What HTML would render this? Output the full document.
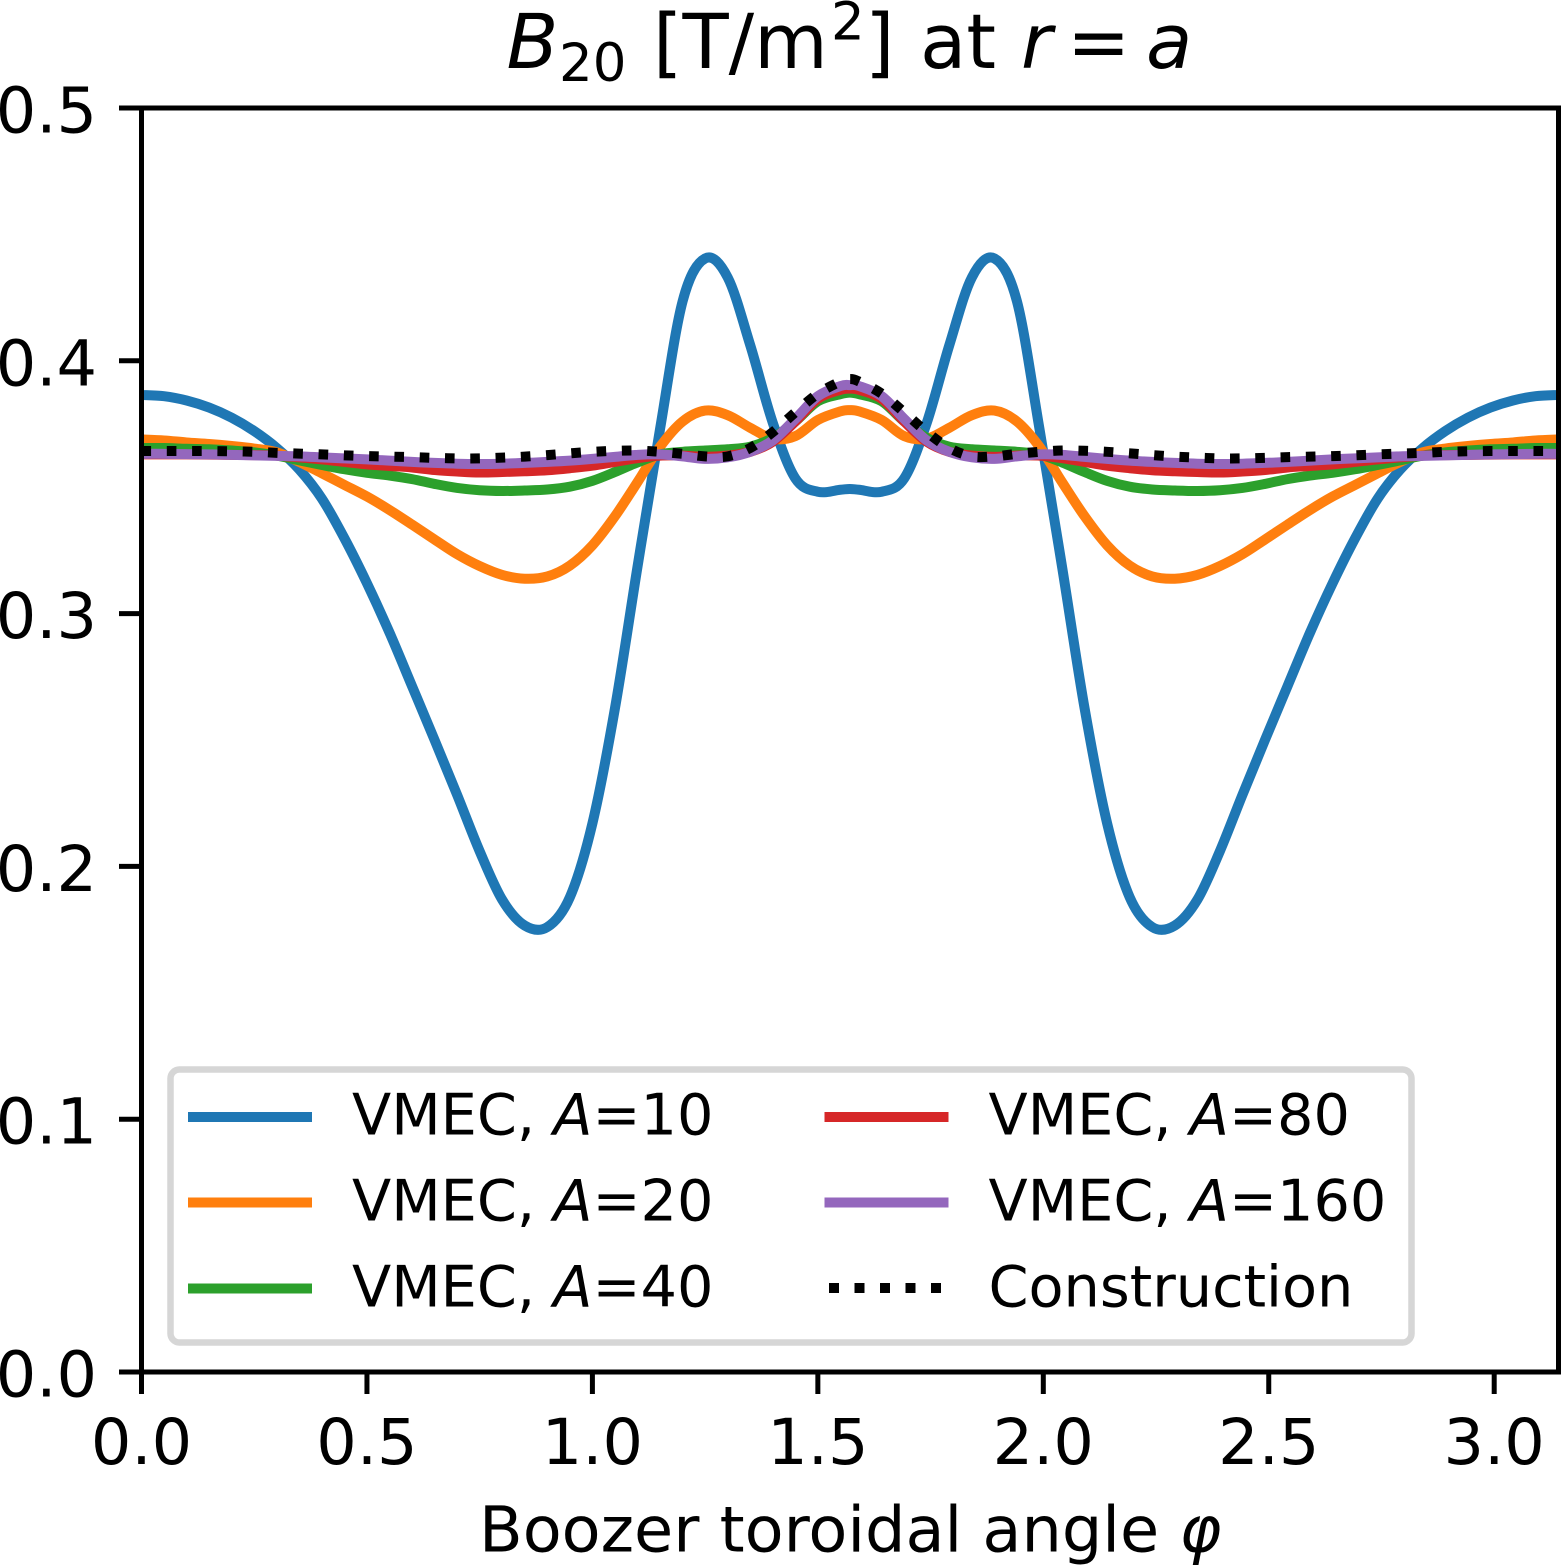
<!DOCTYPE html>
<html lang="en">
<head>
<meta charset="utf-8">
<title>B20 at r = a</title>
<style>
html,body{margin:0;padding:0;background:#fff;width:1561px;height:1565px;overflow:hidden}
svg{display:block}
text{font-family:"DejaVu Sans",sans-serif;fill:#000}
</style>
</head>
<body>
<svg id="chart" xmlns="http://www.w3.org/2000/svg" width="1561" height="1565" viewBox="0 0 1561 1565">
  <defs>
    <clipPath id="plot-clip"><rect x="141.5" y="108" width="1417" height="1264"/></clipPath>
  </defs>
  <rect x="0" y="0" width="1561" height="1565" fill="#fff"/>
  <g id="series" clip-path="url(#plot-clip)"></g>
  <g id="ticks"></g>
  <rect x="141.5" y="108" width="1417" height="1264" fill="none" stroke="#000" stroke-width="5"/>

  <text font-size="75.6" y="68"><tspan x="506.5" font-style="italic">B</tspan><tspan x="559" y="81" font-size="53">20</tspan><tspan x="653" y="68">[T/m</tspan><tspan x="831" y="39.5" font-size="53">2</tspan><tspan x="865" y="68">]</tspan><tspan x="920">at</tspan><tspan x="1021" font-style="italic">r</tspan><tspan x="1067">=</tspan><tspan x="1146" font-style="italic">a</tspan></text>
  <text font-size="63.7" x="479" y="1551.5">Boozer toroidal angle <tspan font-style="italic">φ</tspan></text>

  <g>
    <rect x="170.5" y="1069.5" width="1241" height="273" rx="9" ry="9" fill="#fff" fill-opacity="0.9" stroke="#d6d6d6" stroke-width="6.5"/>
    <g>
      <line x1="188" x2="312" y1="1117" y2="1117" stroke="#1f77b4" stroke-width="10"/>
      <text x="352" y="1134.5" font-size="57.3">VMEC, <tspan font-style="italic">A</tspan>=10</text>
    </g>
    <g>
      <line x1="188" x2="312" y1="1202.5" y2="1202.5" stroke="#ff7f0e" stroke-width="10"/>
      <text x="352" y="1220.5" font-size="57.3">VMEC, <tspan font-style="italic">A</tspan>=20</text>
    </g>
    <g>
      <line x1="188" x2="312" y1="1288.5" y2="1288.5" stroke="#2ca02c" stroke-width="10"/>
      <text x="352" y="1306.5" font-size="57.3">VMEC, <tspan font-style="italic">A</tspan>=40</text>
    </g>
    <g>
      <line x1="824.5" x2="948.5" y1="1117" y2="1117" stroke="#d62728" stroke-width="10"/>
      <text x="988.5" y="1134.5" font-size="57.3">VMEC, <tspan font-style="italic">A</tspan>=80</text>
    </g>
    <g>
      <line x1="824.5" x2="948.5" y1="1202.5" y2="1202.5" stroke="#9467bd" stroke-width="10"/>
      <text x="988.5" y="1220.5" font-size="57.3">VMEC, <tspan font-style="italic">A</tspan>=160</text>
    </g>
    <g>
      <line x1="829" x2="948.5" y1="1288" y2="1288" stroke="#000" stroke-width="10" stroke-dasharray="10 15.5"/>
      <text x="988.5" y="1306.5" font-size="57.3">Construction</text>
    </g>
  </g>
</svg>
<script>
var phi = [0,0.05,0.1,0.15,0.2,0.25,0.3,0.35,0.4,0.45,0.5,0.55,0.6,0.65,0.7,0.75,0.8,0.85,0.9,0.95,1,1.05,1.1,1.15,1.2,1.25,1.3,1.35,1.4,1.45,1.5,1.55,1.5708,
  1.5916,1.6416,1.6916,1.7416,1.7916,1.8416,1.8916,1.9416,1.9916,2.0416,2.0916,2.1416,2.1916,2.2416,2.2916,2.3416,2.3916,2.4416,2.4916,2.5416,2.5916,2.6416,2.6916,2.7416,2.7916,2.8416,2.8916,2.9416,2.9916,3.0416,3.0916,3.1416];

var a10 = [.3865,.3860,.3843,.3815,.3775,.3722,.3655,.3570,.3455,.3298,.3120,.2925,.2713,.2500,.2283,.2060,.1868,.1766,.1760,.1878,.2170,.2625,.3185,.3730,.4235,.4405,.4330,.4062,.3755,.3535,.3482,.3490,.3493,
  .3490,.3482,.3535,.3755,.4062,.4330,.4405,.4235,.3730,.3185,.2625,.2170,.1878,.1760,.1766,.1868,.2060,.2283,.2500,.2713,.2925,.3120,.3298,.3455,.3570,.3655,.3722,.3775,.3815,.3843,.3860,.3865];

var a20 = [.3689,.3685,.3677,.3671,.3663,.3653,.3638,.3600,.3555,.3509,.3463,.3410,.3352,.3293,.3235,.3188,.3153,.3138,.3147,.3190,.3270,.3385,.3520,.3660,.3760,.3803,.3785,.3735,.3692,.3702,.3766,.3800,.3805,
  .3800,.3766,.3702,.3692,.3735,.3785,.3803,.3760,.3660,.3520,.3385,.3270,.3190,.3147,.3138,.3153,.3188,.3235,.3293,.3352,.3410,.3463,.3509,.3555,.3600,.3638,.3653,.3663,.3671,.3677,.3685,.3689];

var a40 = [.3655,.3655,.3652,.3650,.3645,.3638,.3625,.3606,.3588,.3571,.3557,.3546,.3532,.3513,.3497,.3488,.3485,.3487,.3491,.3502,.3525,.3560,.3598,.3630,.3640,.3645,.3650,.3660,.3695,.3760,.3840,.3868,.3874,
  .3868,.3840,.3760,.3695,.3660,.3650,.3645,.3640,.3630,.3598,.3560,.3525,.3502,.3491,.3487,.3485,.3488,.3497,.3513,.3532,.3546,.3557,.3571,.3588,.3606,.3625,.3638,.3645,.3650,.3652,.3655,.3655];

var a80 = [.3630,.3630,.3630,.3629,.3628,.3627,.3625,.3618,.3610,.3600,.3590,.3584,.3578,.3568,.3562,.3558,.3560,.3563,.3567,.3575,.3585,.3600,.3615,.3625,.3625,.3620,.3625,.3640,.3680,.3760,.3850,.3885,.3890,
  .3885,.3850,.3760,.3680,.3640,.3625,.3620,.3625,.3625,.3615,.3600,.3585,.3575,.3567,.3563,.3560,.3558,.3562,.3568,.3578,.3584,.3590,.3600,.3610,.3618,.3625,.3627,.3628,.3629,.3630,.3630,.3630];

var a160 = [.3632,.3632,.3631,.3630,.3628,.3626,.3624,.3622,.3618,.3614,.3610,.3605,.3600,.3596,.3593,.3592,.3593,.3596,.3600,.3605,.3612,.3620,.3628,.3630,.3622,.3612,.3618,.3640,.3685,.3770,.3860,.3900,.3904,
  .3900,.3860,.3770,.3685,.3640,.3618,.3612,.3622,.3630,.3628,.3620,.3612,.3605,.3600,.3596,.3593,.3592,.3593,.3596,.3600,.3605,.3610,.3614,.3618,.3622,.3624,.3626,.3628,.3630,.3631,.3632,.3632];

var construction = [.3643,.3643,.3643,.3643,.3642,.3640,.3636,.3633,.3630,.3626,.3623,.3621,.3619,.3616,.3614,.3614,.3617,.3621,.3627,.3634,.3640,.3644,.3645,.3640,.3632,.3622,.3622,.3655,.3718,.3796,.3870,.3918,.3928,
  .3918,.3870,.3796,.3718,.3655,.3622,.3622,.3632,.3640,.3645,.3644,.3640,.3634,.3627,.3621,.3617,.3614,.3614,.3616,.3619,.3621,.3623,.3626,.3630,.3633,.3636,.3640,.3642,.3643,.3643,.3643,.3643];

var xTickValues = [0,0.5,1,1.5,2,2.5,3];
var xTickLabels = ["0.0","0.5","1.0","1.5","2.0","2.5","3.0"];
var yTickValues = [0,0.1,0.2,0.3,0.4,0.5];
var yTickLabels = ["0.0","0.1","0.2","0.3","0.4","0.5"];

function xScale(v){ return 141.5 + v * 450.9; }
function yScale(v){ return 1372 - v * 2528; }

function smoothPath(xs, ys){
  var pts = xs.map(function(x, i){ return [xScale(x), yScale(ys[i])]; });
  var d = "M" + pts[0][0].toFixed(2) + " " + pts[0][1].toFixed(2);
  for (var i = 0; i < pts.length - 1; i++){
    var p0 = pts[Math.max(i - 1, 0)], p1 = pts[i], p2 = pts[i + 1], p3 = pts[Math.min(i + 2, pts.length - 1)];
    var c1x = p1[0] + (p2[0] - p0[0]) / 6, c1y = p1[1] + (p2[1] - p0[1]) / 6;
    var c2x = p2[0] - (p3[0] - p1[0]) / 6, c2y = p2[1] - (p3[1] - p1[1]) / 6;
    d += "C" + c1x.toFixed(2) + " " + c1y.toFixed(2) + " " + c2x.toFixed(2) + " " + c2y.toFixed(2) + " " + p2[0].toFixed(2) + " " + p2[1].toFixed(2);
  }
  return d;
}

var NS = "http://www.w3.org/2000/svg";
var seriesGroup = document.getElementById("series");
var tickGroup = document.getElementById("ticks");

function addSeries(name, values, color, width, dash){
  var path = document.createElementNS(NS, "path");
  
  
  path.setAttribute("d", smoothPath(phi, values));
  path.setAttribute("fill", "none");
  path.setAttribute("stroke", color);
  path.setAttribute("stroke-width", width);
  path.setAttribute("stroke-linejoin", "round");
  if (dash) path.setAttribute("stroke-dasharray", dash);
  seriesGroup.appendChild(path);
}

addSeries("series-a10", a10, "#1f77b4", 10);
addSeries("series-a20", a20, "#ff7f0e", 10);
addSeries("series-a40", a40, "#2ca02c", 10);
addSeries("series-a80", a80, "#d62728", 10);
addSeries("series-a160", a160, "#9467bd", 10);
addSeries("series-construction", construction, "#000", 10, "9.6 15.7");

function addTickMark(name, x1, y1, x2, y2){
  var line = document.createElementNS(NS, "line");
  
  
  line.setAttribute("x1", x1);
  line.setAttribute("y1", y1);
  line.setAttribute("x2", x2);
  line.setAttribute("y2", y2);
  line.setAttribute("stroke", "#000");
  line.setAttribute("stroke-width", "5");
  tickGroup.appendChild(line);
}

function addTickLabel(name, content, x, y, anchor){
  var label = document.createElementNS(NS, "text");
  
  
  label.setAttribute("x", x);
  label.setAttribute("y", y);
  label.setAttribute("font-size", "63.7");
  label.setAttribute("text-anchor", anchor);
  label.textContent = content;
  tickGroup.appendChild(label);
}

xTickValues.forEach(function(v, i){
  var x = xScale(v);
  addTickMark("x-tick-" + xTickLabels[i], x, 1372, x, 1394);
  addTickLabel("x-tick-label-" + xTickLabels[i], xTickLabels[i], x, 1464, "middle");
});
yTickValues.forEach(function(v, i){
  var y = yScale(v);
  addTickMark("y-tick-" + yTickLabels[i], 119, y, 141.5, y);
  addTickLabel("y-tick-label-" + yTickLabels[i], yTickLabels[i], 97, y + 24.5, "end");
});
</script>
</body>
</html>
